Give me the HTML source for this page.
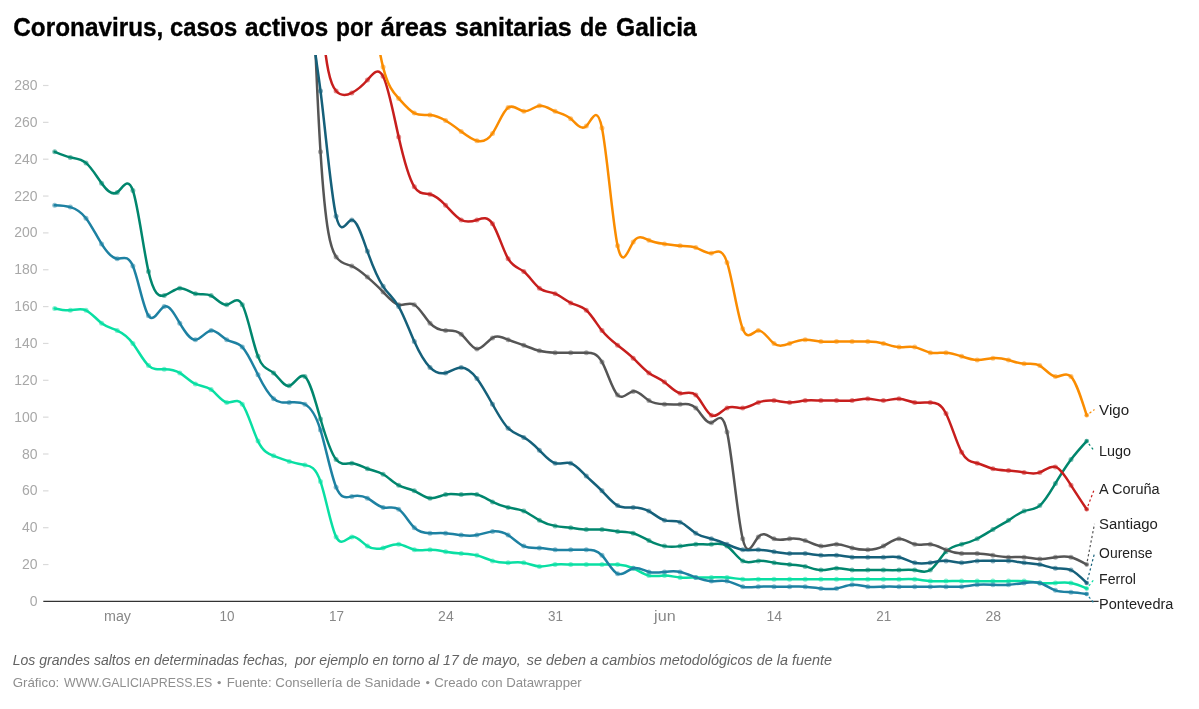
<!DOCTYPE html>
<html><head><meta charset="utf-8"><title>Coronavirus, casos activos por áreas sanitarias de Galicia</title>
<style>
html,body{margin:0;padding:0;background:#fff;}
body{width:1199px;height:709px;overflow:hidden;font-family:"Liberation Sans",sans-serif;}
svg{display:block;will-change:transform;font-family:"Liberation Sans",sans-serif;}
</style></head><body>
<svg width="1199" height="709" viewBox="0 0 1199 709">
<rect width="1199" height="709" fill="#ffffff"/>
<defs><clipPath id="cp"><rect x="40" y="55" width="1080" height="560"/></clipPath></defs>
<g font-size="25.5" font-weight="bold" fill="#000" stroke="#000" stroke-width="0.35"><text x="13.3" y="35.8" textLength="150.0" lengthAdjust="spacingAndGlyphs">Coronavirus,</text><text x="170.0" y="35.8" textLength="67.3" lengthAdjust="spacingAndGlyphs">casos</text><text x="245.0" y="35.8" textLength="83.3" lengthAdjust="spacingAndGlyphs">activos</text><text x="336.0" y="35.8" textLength="36.7" lengthAdjust="spacingAndGlyphs">por</text><text x="380.7" y="35.8" textLength="66.6" lengthAdjust="spacingAndGlyphs">áreas</text><text x="455.0" y="35.8" textLength="116.7" lengthAdjust="spacingAndGlyphs">sanitarias</text><text x="580.0" y="35.8" textLength="27.3" lengthAdjust="spacingAndGlyphs">de</text><text x="616.0" y="35.8" textLength="80.7" lengthAdjust="spacingAndGlyphs">Galicia</text></g>
<text x="29.7" y="605.9" font-size="14" fill="#a8a8a8" textLength="7.8" lengthAdjust="spacingAndGlyphs">0</text><text x="21.9" y="569.0" font-size="14" fill="#a8a8a8" textLength="15.6" lengthAdjust="spacingAndGlyphs">20</text><line x1="43" x2="48.5" y1="564.55" y2="564.55" stroke="#dadada" stroke-width="1.2"/>
<text x="21.9" y="532.2" font-size="14" fill="#a8a8a8" textLength="15.6" lengthAdjust="spacingAndGlyphs">40</text><line x1="43" x2="48.5" y1="527.70" y2="527.70" stroke="#dadada" stroke-width="1.2"/>
<text x="21.9" y="495.3" font-size="14" fill="#a8a8a8" textLength="15.6" lengthAdjust="spacingAndGlyphs">60</text><line x1="43" x2="48.5" y1="490.85" y2="490.85" stroke="#dadada" stroke-width="1.2"/>
<text x="21.9" y="458.5" font-size="14" fill="#a8a8a8" textLength="15.6" lengthAdjust="spacingAndGlyphs">80</text><line x1="43" x2="48.5" y1="454.00" y2="454.00" stroke="#dadada" stroke-width="1.2"/>
<text x="14.2" y="421.6" font-size="14" fill="#a8a8a8" textLength="23.3" lengthAdjust="spacingAndGlyphs">100</text><line x1="43" x2="48.5" y1="417.15" y2="417.15" stroke="#dadada" stroke-width="1.2"/>
<text x="14.2" y="384.8" font-size="14" fill="#a8a8a8" textLength="23.3" lengthAdjust="spacingAndGlyphs">120</text><line x1="43" x2="48.5" y1="380.30" y2="380.30" stroke="#dadada" stroke-width="1.2"/>
<text x="14.2" y="347.9" font-size="14" fill="#a8a8a8" textLength="23.3" lengthAdjust="spacingAndGlyphs">140</text><line x1="43" x2="48.5" y1="343.45" y2="343.45" stroke="#dadada" stroke-width="1.2"/>
<text x="14.2" y="311.1" font-size="14" fill="#a8a8a8" textLength="23.3" lengthAdjust="spacingAndGlyphs">160</text><line x1="43" x2="48.5" y1="306.60" y2="306.60" stroke="#dadada" stroke-width="1.2"/>
<text x="14.2" y="274.2" font-size="14" fill="#a8a8a8" textLength="23.3" lengthAdjust="spacingAndGlyphs">180</text><line x1="43" x2="48.5" y1="269.75" y2="269.75" stroke="#dadada" stroke-width="1.2"/>
<text x="14.2" y="237.4" font-size="14" fill="#a8a8a8" textLength="23.3" lengthAdjust="spacingAndGlyphs">200</text><line x1="43" x2="48.5" y1="232.90" y2="232.90" stroke="#dadada" stroke-width="1.2"/>
<text x="14.2" y="200.5" font-size="14" fill="#a8a8a8" textLength="23.3" lengthAdjust="spacingAndGlyphs">220</text><line x1="43" x2="48.5" y1="196.05" y2="196.05" stroke="#dadada" stroke-width="1.2"/>
<text x="14.2" y="163.7" font-size="14" fill="#a8a8a8" textLength="23.3" lengthAdjust="spacingAndGlyphs">240</text><line x1="43" x2="48.5" y1="159.20" y2="159.20" stroke="#dadada" stroke-width="1.2"/>
<text x="14.2" y="126.8" font-size="14" fill="#a8a8a8" textLength="23.3" lengthAdjust="spacingAndGlyphs">260</text><line x1="43" x2="48.5" y1="122.35" y2="122.35" stroke="#dadada" stroke-width="1.2"/>
<text x="14.2" y="90.0" font-size="14" fill="#a8a8a8" textLength="23.3" lengthAdjust="spacingAndGlyphs">280</text><line x1="43" x2="48.5" y1="85.50" y2="85.50" stroke="#dadada" stroke-width="1.2"/>
<line x1="43.3" x2="1098.6" y1="601.4" y2="601.4" stroke="#333" stroke-width="1.3"/>
<text x="104.0" y="621" font-size="14" fill="#888" textLength="27.0" lengthAdjust="spacingAndGlyphs">may</text>
<text x="219.5" y="621" font-size="14" fill="#888" textLength="15.0" lengthAdjust="spacingAndGlyphs">10</text>
<text x="328.9" y="621" font-size="14" fill="#888" textLength="15.0" lengthAdjust="spacingAndGlyphs">17</text>
<text x="438.1" y="621" font-size="14" fill="#888" textLength="15.6" lengthAdjust="spacingAndGlyphs">24</text>
<text x="547.9" y="621" font-size="14" fill="#888" textLength="15.0" lengthAdjust="spacingAndGlyphs">31</text>
<text x="654.1" y="621" font-size="14" fill="#888" textLength="21.5" lengthAdjust="spacingAndGlyphs">jun</text>
<text x="766.5" y="621" font-size="14" fill="#888" textLength="15.6" lengthAdjust="spacingAndGlyphs">14</text>
<text x="876.2" y="621" font-size="14" fill="#888" textLength="15.0" lengthAdjust="spacingAndGlyphs">21</text>
<text x="985.4" y="621" font-size="14" fill="#888" textLength="15.6" lengthAdjust="spacingAndGlyphs">28</text>
<g clip-path="url(#cp)" fill="none" stroke-linejoin="round" stroke-linecap="round">
<path d="M54.70,151.83C59.91,154.03,65.12,156.24,70.34,157.36C75.55,158.48,80.76,158.52,85.97,162.88C91.18,167.25,96.40,175.95,101.61,183.15C106.82,190.36,112.03,196.08,117.24,192.36C122.46,188.65,127.67,175.50,132.88,190.52C138.09,205.54,143.30,248.72,148.52,271.59C153.73,294.46,158.94,297.01,164.15,295.54C169.36,294.08,174.58,288.59,179.79,288.17C185.00,287.76,190.21,292.42,195.42,293.70C200.64,294.99,205.85,292.91,211.06,295.54C216.27,298.18,221.48,305.54,226.70,304.76C231.91,303.97,237.12,295.05,242.33,304.76C247.54,314.46,252.76,342.80,257.97,356.35C263.18,369.90,268.39,368.66,273.60,372.93C278.82,377.20,284.03,386.99,289.24,385.83C294.45,384.67,299.66,372.56,304.88,376.62C310.09,380.67,315.30,400.90,320.51,418.99C325.72,437.08,330.94,453.04,336.15,459.53C341.36,466.01,346.57,463.03,351.78,463.21C357.00,463.40,362.21,466.76,367.42,468.74C372.63,470.72,377.84,471.32,383.06,474.27C388.27,477.21,393.48,482.51,398.69,485.32C403.90,488.14,409.12,488.48,414.33,490.85C419.54,493.22,424.75,497.63,429.96,498.22C435.18,498.81,440.39,495.60,445.60,494.53C450.81,493.47,456.02,494.57,461.24,494.53C466.45,494.50,471.66,493.35,476.87,494.53C482.08,495.72,487.30,499.25,492.51,501.90C497.72,504.56,502.93,506.35,508.14,507.43C513.36,508.51,518.57,508.88,523.78,511.12C528.99,513.35,534.20,517.44,539.42,520.33C544.63,523.22,549.84,524.89,555.05,525.86C560.26,526.82,565.48,527.08,570.69,527.70C575.90,528.32,581.11,529.31,586.32,529.54C591.54,529.78,596.75,529.26,601.96,529.54C607.17,529.83,612.38,530.92,617.60,531.38C622.81,531.85,628.02,531.70,633.23,533.23C638.44,534.76,643.66,537.98,648.87,540.60C654.08,543.22,659.29,545.24,664.50,546.12C669.72,547.01,674.93,546.75,680.14,546.12C685.35,545.50,690.56,544.50,695.78,544.28C700.99,544.07,706.20,544.64,711.41,544.28C716.62,543.92,721.84,542.62,727.05,546.12C732.26,549.63,737.47,557.93,742.68,560.87C747.90,563.80,753.11,561.38,758.32,560.87C763.53,560.35,768.74,561.75,773.96,562.71C779.17,563.66,784.38,564.18,789.59,564.55C794.80,564.92,800.02,565.15,805.23,566.39C810.44,567.63,815.65,569.88,820.86,570.08C826.08,570.27,831.29,568.42,836.50,568.24C841.71,568.05,846.92,569.53,852.14,570.08C857.35,570.63,862.56,570.24,867.77,570.08C872.98,569.91,878.20,569.97,883.41,570.08C888.62,570.18,893.83,570.34,899.04,570.08C904.26,569.81,909.47,569.13,914.68,570.08C919.89,571.03,925.10,573.61,930.32,570.08C935.53,566.55,940.74,556.90,945.95,551.65C951.16,546.40,956.38,545.55,961.59,544.28C966.80,543.02,972.01,541.35,977.22,538.75C982.44,536.16,987.65,532.65,992.86,529.54C998.07,526.43,1003.28,523.72,1008.50,520.33C1013.71,516.94,1018.92,512.88,1024.13,511.12C1029.34,509.35,1034.56,509.88,1039.77,505.59C1044.98,501.30,1050.19,492.17,1055.40,483.48C1060.62,474.79,1065.83,466.52,1071.04,459.53C1076.25,452.54,1081.46,446.82,1086.68,441.10" stroke="#00866d" stroke-width="2.5"/>
<g fill="#00866d" fill-opacity="0.5" stroke="none"><circle cx="54.7" cy="151.8" r="2.5"/><circle cx="70.3" cy="157.4" r="2.5"/><circle cx="86.0" cy="162.9" r="2.5"/><circle cx="101.6" cy="183.2" r="2.5"/><circle cx="117.2" cy="192.4" r="2.5"/><circle cx="132.9" cy="190.5" r="2.5"/><circle cx="148.5" cy="271.6" r="2.5"/><circle cx="164.2" cy="295.5" r="2.5"/><circle cx="179.8" cy="288.2" r="2.5"/><circle cx="195.4" cy="293.7" r="2.5"/><circle cx="211.1" cy="295.5" r="2.5"/><circle cx="226.7" cy="304.8" r="2.5"/><circle cx="242.3" cy="304.8" r="2.5"/><circle cx="258.0" cy="356.3" r="2.5"/><circle cx="273.6" cy="372.9" r="2.5"/><circle cx="289.2" cy="385.8" r="2.5"/><circle cx="304.9" cy="376.6" r="2.5"/><circle cx="320.5" cy="419.0" r="2.5"/><circle cx="336.1" cy="459.5" r="2.5"/><circle cx="351.8" cy="463.2" r="2.5"/><circle cx="367.4" cy="468.7" r="2.5"/><circle cx="383.1" cy="474.3" r="2.5"/><circle cx="398.7" cy="485.3" r="2.5"/><circle cx="414.3" cy="490.8" r="2.5"/><circle cx="430.0" cy="498.2" r="2.5"/><circle cx="445.6" cy="494.5" r="2.5"/><circle cx="461.2" cy="494.5" r="2.5"/><circle cx="476.9" cy="494.5" r="2.5"/><circle cx="492.5" cy="501.9" r="2.5"/><circle cx="508.1" cy="507.4" r="2.5"/><circle cx="523.8" cy="511.1" r="2.5"/><circle cx="539.4" cy="520.3" r="2.5"/><circle cx="555.1" cy="525.9" r="2.5"/><circle cx="570.7" cy="527.7" r="2.5"/><circle cx="586.3" cy="529.5" r="2.5"/><circle cx="602.0" cy="529.5" r="2.5"/><circle cx="617.6" cy="531.4" r="2.5"/><circle cx="633.2" cy="533.2" r="2.5"/><circle cx="648.9" cy="540.6" r="2.5"/><circle cx="664.5" cy="546.1" r="2.5"/><circle cx="680.1" cy="546.1" r="2.5"/><circle cx="695.8" cy="544.3" r="2.5"/><circle cx="711.4" cy="544.3" r="2.5"/><circle cx="727.0" cy="546.1" r="2.5"/><circle cx="742.7" cy="560.9" r="2.5"/><circle cx="758.3" cy="560.9" r="2.5"/><circle cx="774.0" cy="562.7" r="2.5"/><circle cx="789.6" cy="564.5" r="2.5"/><circle cx="805.2" cy="566.4" r="2.5"/><circle cx="820.9" cy="570.1" r="2.5"/><circle cx="836.5" cy="568.2" r="2.5"/><circle cx="852.1" cy="570.1" r="2.5"/><circle cx="867.8" cy="570.1" r="2.5"/><circle cx="883.4" cy="570.1" r="2.5"/><circle cx="899.0" cy="570.1" r="2.5"/><circle cx="914.7" cy="570.1" r="2.5"/><circle cx="930.3" cy="570.1" r="2.5"/><circle cx="946.0" cy="551.7" r="2.5"/><circle cx="961.6" cy="544.3" r="2.5"/><circle cx="977.2" cy="538.8" r="2.5"/><circle cx="992.9" cy="529.5" r="2.5"/><circle cx="1008.5" cy="520.3" r="2.5"/><circle cx="1024.1" cy="511.1" r="2.5"/><circle cx="1039.8" cy="505.6" r="2.5"/><circle cx="1055.4" cy="483.5" r="2.5"/><circle cx="1071.0" cy="459.5" r="2.5"/></g>
<circle cx="1086.7" cy="441.1" r="2.3" fill="#00866d" fill-opacity="0.7" stroke="none"/>
<path d="M54.70,308.44C59.91,309.57,65.12,310.69,70.34,310.28C75.55,309.88,80.76,307.93,85.97,310.28C91.18,312.64,96.40,319.29,101.61,323.18C106.82,327.07,112.03,328.20,117.24,330.55C122.46,332.90,127.67,336.47,132.88,343.45C138.09,350.43,143.30,360.83,148.52,365.56C153.73,370.29,158.94,369.36,164.15,369.25C169.36,369.13,174.58,369.83,179.79,372.93C185.00,376.03,190.21,381.55,195.42,383.99C200.64,386.42,205.85,385.78,211.06,389.51C216.27,393.24,221.48,401.34,226.70,402.41C231.91,403.48,237.12,397.53,242.33,404.25C247.54,410.98,252.76,430.38,257.97,441.10C263.18,451.82,268.39,453.85,273.60,455.84C278.82,457.83,284.03,459.78,289.24,461.37C294.45,462.96,299.66,464.18,304.88,465.05C310.09,465.93,315.30,466.47,320.51,481.64C325.72,496.81,330.94,526.60,336.15,536.91C341.36,547.22,346.57,538.04,351.78,536.91C357.00,535.79,362.21,542.72,367.42,546.12C372.63,549.53,377.84,549.40,383.06,547.97C388.27,546.53,393.48,543.78,398.69,544.28C403.90,544.78,409.12,548.54,414.33,549.81C419.54,551.08,424.75,549.88,429.96,549.81C435.18,549.74,440.39,550.81,445.60,551.65C450.81,552.50,456.02,553.13,461.24,553.50C466.45,553.86,471.66,553.97,476.87,555.34C482.08,556.70,487.30,559.33,492.51,560.87C497.72,562.40,502.93,562.84,508.14,562.71C513.36,562.57,518.57,561.85,523.78,562.71C528.99,563.56,534.20,566.00,539.42,566.39C544.63,566.79,549.84,565.15,555.05,564.55C560.26,563.95,565.48,564.40,570.69,564.55C575.90,564.70,581.11,564.57,586.32,564.55C591.54,564.53,596.75,564.63,601.96,564.55C607.17,564.47,612.38,564.20,617.60,564.55C622.81,564.90,628.02,565.87,633.23,568.24C638.44,570.60,643.66,574.36,648.87,575.61C654.08,576.85,659.29,575.57,664.50,575.61C669.72,575.64,674.93,576.97,680.14,577.45C685.35,577.93,690.56,577.55,695.78,577.45C700.99,577.35,706.20,577.52,711.41,577.45C716.62,577.38,721.84,577.07,727.05,577.45C732.26,577.83,737.47,578.90,742.68,579.29C747.90,579.68,753.11,579.40,758.32,579.29C763.53,579.18,768.74,579.26,773.96,579.29C779.17,579.32,784.38,579.30,789.59,579.29C794.80,579.28,800.02,579.29,805.23,579.29C810.44,579.29,815.65,579.29,820.86,579.29C826.08,579.29,831.29,579.29,836.50,579.29C841.71,579.29,846.92,579.29,852.14,579.29C857.35,579.29,862.56,579.30,867.77,579.29C872.98,579.28,878.20,579.26,883.41,579.29C888.62,579.32,893.83,579.39,899.04,579.29C904.26,579.19,909.47,578.90,914.68,579.29C919.89,579.68,925.10,580.74,930.32,581.13C935.53,581.52,940.74,581.24,945.95,581.13C951.16,581.03,956.38,581.10,961.59,581.13C966.80,581.16,972.01,581.15,977.22,581.13C982.44,581.12,987.65,581.10,992.86,581.13C998.07,581.16,1003.28,581.23,1008.50,581.13C1013.71,581.03,1018.92,580.76,1024.13,581.13C1029.34,581.51,1034.56,582.52,1039.77,582.98C1044.98,583.43,1050.19,583.31,1055.40,582.98C1060.62,582.64,1065.83,582.09,1071.04,582.98C1076.25,583.86,1081.46,586.18,1086.68,588.50" stroke="#09dfa3" stroke-width="2.5"/>
<g fill="#09dfa3" fill-opacity="0.5" stroke="none"><circle cx="54.7" cy="308.4" r="2.5"/><circle cx="70.3" cy="310.3" r="2.5"/><circle cx="86.0" cy="310.3" r="2.5"/><circle cx="101.6" cy="323.2" r="2.5"/><circle cx="117.2" cy="330.6" r="2.5"/><circle cx="132.9" cy="343.4" r="2.5"/><circle cx="148.5" cy="365.6" r="2.5"/><circle cx="164.2" cy="369.2" r="2.5"/><circle cx="179.8" cy="372.9" r="2.5"/><circle cx="195.4" cy="384.0" r="2.5"/><circle cx="211.1" cy="389.5" r="2.5"/><circle cx="226.7" cy="402.4" r="2.5"/><circle cx="242.3" cy="404.3" r="2.5"/><circle cx="258.0" cy="441.1" r="2.5"/><circle cx="273.6" cy="455.8" r="2.5"/><circle cx="289.2" cy="461.4" r="2.5"/><circle cx="304.9" cy="465.1" r="2.5"/><circle cx="320.5" cy="481.6" r="2.5"/><circle cx="336.1" cy="536.9" r="2.5"/><circle cx="351.8" cy="536.9" r="2.5"/><circle cx="367.4" cy="546.1" r="2.5"/><circle cx="383.1" cy="548.0" r="2.5"/><circle cx="398.7" cy="544.3" r="2.5"/><circle cx="414.3" cy="549.8" r="2.5"/><circle cx="430.0" cy="549.8" r="2.5"/><circle cx="445.6" cy="551.7" r="2.5"/><circle cx="461.2" cy="553.5" r="2.5"/><circle cx="476.9" cy="555.3" r="2.5"/><circle cx="492.5" cy="560.9" r="2.5"/><circle cx="508.1" cy="562.7" r="2.5"/><circle cx="523.8" cy="562.7" r="2.5"/><circle cx="539.4" cy="566.4" r="2.5"/><circle cx="555.1" cy="564.5" r="2.5"/><circle cx="570.7" cy="564.5" r="2.5"/><circle cx="586.3" cy="564.5" r="2.5"/><circle cx="602.0" cy="564.5" r="2.5"/><circle cx="617.6" cy="564.5" r="2.5"/><circle cx="633.2" cy="568.2" r="2.5"/><circle cx="648.9" cy="575.6" r="2.5"/><circle cx="664.5" cy="575.6" r="2.5"/><circle cx="680.1" cy="577.4" r="2.5"/><circle cx="695.8" cy="577.4" r="2.5"/><circle cx="711.4" cy="577.4" r="2.5"/><circle cx="727.0" cy="577.4" r="2.5"/><circle cx="742.7" cy="579.3" r="2.5"/><circle cx="758.3" cy="579.3" r="2.5"/><circle cx="774.0" cy="579.3" r="2.5"/><circle cx="789.6" cy="579.3" r="2.5"/><circle cx="805.2" cy="579.3" r="2.5"/><circle cx="820.9" cy="579.3" r="2.5"/><circle cx="836.5" cy="579.3" r="2.5"/><circle cx="852.1" cy="579.3" r="2.5"/><circle cx="867.8" cy="579.3" r="2.5"/><circle cx="883.4" cy="579.3" r="2.5"/><circle cx="899.0" cy="579.3" r="2.5"/><circle cx="914.7" cy="579.3" r="2.5"/><circle cx="930.3" cy="581.1" r="2.5"/><circle cx="946.0" cy="581.1" r="2.5"/><circle cx="961.6" cy="581.1" r="2.5"/><circle cx="977.2" cy="581.1" r="2.5"/><circle cx="992.9" cy="581.1" r="2.5"/><circle cx="1008.5" cy="581.1" r="2.5"/><circle cx="1024.1" cy="581.1" r="2.5"/><circle cx="1039.8" cy="583.0" r="2.5"/><circle cx="1055.4" cy="583.0" r="2.5"/><circle cx="1071.0" cy="583.0" r="2.5"/></g>
<circle cx="1086.7" cy="588.5" r="2.3" fill="#09dfa3" fill-opacity="0.7" stroke="none"/>
<path d="M304.88,-227.73C310.09,-78.99,315.30,69.75,320.51,151.83C325.72,233.91,330.94,249.32,336.15,256.85C341.36,264.38,346.57,264.02,351.78,266.06C357.00,268.11,362.21,272.55,367.42,277.12C372.63,281.69,377.84,286.37,383.06,291.86C388.27,297.35,393.48,303.63,398.69,304.76C403.90,305.88,409.12,301.85,414.33,304.76C419.54,307.67,424.75,317.52,429.96,323.18C435.18,328.84,440.39,330.30,445.60,330.55C450.81,330.80,456.02,329.83,461.24,334.24C466.45,338.64,471.66,348.41,476.87,348.98C482.08,349.54,487.30,340.89,492.51,337.92C497.72,334.95,502.93,337.66,508.14,339.76C513.36,341.87,518.57,343.39,523.78,345.29C528.99,347.20,534.20,349.49,539.42,350.82C544.63,352.15,549.84,352.53,555.05,352.66C560.26,352.80,565.48,352.69,570.69,352.66C575.90,352.63,581.11,352.67,586.32,352.66C591.54,352.65,596.75,352.59,601.96,361.88C607.17,371.16,612.38,389.80,617.60,395.04C622.81,400.28,628.02,392.13,633.23,391.35C638.44,390.58,643.66,397.19,648.87,400.57C654.08,403.94,659.29,404.08,664.50,404.25C669.72,404.42,674.93,404.63,680.14,404.25C685.35,403.88,690.56,402.93,695.78,407.94C700.99,412.95,706.20,423.91,711.41,422.68C716.62,421.44,721.84,408.01,727.05,431.89C732.26,455.77,737.47,516.98,742.68,538.75C747.90,560.53,753.11,542.88,758.32,536.91C763.53,530.95,768.74,536.67,773.96,538.75C779.17,540.84,784.38,539.28,789.59,538.75C794.80,538.23,800.02,538.74,805.23,540.60C810.44,542.46,815.65,545.67,820.86,546.12C826.08,546.58,831.29,544.29,836.50,544.28C841.71,544.27,846.92,546.55,852.14,547.97C857.35,549.39,862.56,549.95,867.77,549.81C872.98,549.67,878.20,548.83,883.41,546.12C888.62,543.42,893.83,538.86,899.04,538.75C904.26,538.65,909.47,543.01,914.68,544.28C919.89,545.55,925.10,543.74,930.32,544.28C935.53,544.83,940.74,547.73,945.95,549.81C951.16,551.89,956.38,553.13,961.59,553.50C966.80,553.86,972.01,553.34,977.22,553.50C982.44,553.65,987.65,554.49,992.86,555.34C998.07,556.18,1003.28,557.03,1008.50,557.18C1013.71,557.33,1018.92,556.78,1024.13,557.18C1029.34,557.58,1034.56,558.92,1039.77,559.02C1044.98,559.12,1050.19,557.99,1055.40,557.18C1060.62,556.37,1065.83,555.90,1071.04,557.18C1076.25,558.46,1081.46,561.51,1086.68,564.55" stroke="#555555" stroke-width="2.5"/>
<g fill="#555555" fill-opacity="0.5" stroke="none"><circle cx="320.5" cy="151.8" r="2.5"/><circle cx="336.1" cy="256.9" r="2.5"/><circle cx="351.8" cy="266.1" r="2.5"/><circle cx="367.4" cy="277.1" r="2.5"/><circle cx="383.1" cy="291.9" r="2.5"/><circle cx="398.7" cy="304.8" r="2.5"/><circle cx="414.3" cy="304.8" r="2.5"/><circle cx="430.0" cy="323.2" r="2.5"/><circle cx="445.6" cy="330.6" r="2.5"/><circle cx="461.2" cy="334.2" r="2.5"/><circle cx="476.9" cy="349.0" r="2.5"/><circle cx="492.5" cy="337.9" r="2.5"/><circle cx="508.1" cy="339.8" r="2.5"/><circle cx="523.8" cy="345.3" r="2.5"/><circle cx="539.4" cy="350.8" r="2.5"/><circle cx="555.1" cy="352.7" r="2.5"/><circle cx="570.7" cy="352.7" r="2.5"/><circle cx="586.3" cy="352.7" r="2.5"/><circle cx="602.0" cy="361.9" r="2.5"/><circle cx="617.6" cy="395.0" r="2.5"/><circle cx="633.2" cy="391.4" r="2.5"/><circle cx="648.9" cy="400.6" r="2.5"/><circle cx="664.5" cy="404.3" r="2.5"/><circle cx="680.1" cy="404.3" r="2.5"/><circle cx="695.8" cy="407.9" r="2.5"/><circle cx="711.4" cy="422.7" r="2.5"/><circle cx="727.0" cy="431.9" r="2.5"/><circle cx="742.7" cy="538.8" r="2.5"/><circle cx="758.3" cy="536.9" r="2.5"/><circle cx="774.0" cy="538.8" r="2.5"/><circle cx="789.6" cy="538.8" r="2.5"/><circle cx="805.2" cy="540.6" r="2.5"/><circle cx="820.9" cy="546.1" r="2.5"/><circle cx="836.5" cy="544.3" r="2.5"/><circle cx="852.1" cy="548.0" r="2.5"/><circle cx="867.8" cy="549.8" r="2.5"/><circle cx="883.4" cy="546.1" r="2.5"/><circle cx="899.0" cy="538.8" r="2.5"/><circle cx="914.7" cy="544.3" r="2.5"/><circle cx="930.3" cy="544.3" r="2.5"/><circle cx="946.0" cy="549.8" r="2.5"/><circle cx="961.6" cy="553.5" r="2.5"/><circle cx="977.2" cy="553.5" r="2.5"/><circle cx="992.9" cy="555.3" r="2.5"/><circle cx="1008.5" cy="557.2" r="2.5"/><circle cx="1024.1" cy="557.2" r="2.5"/><circle cx="1039.8" cy="559.0" r="2.5"/><circle cx="1055.4" cy="557.2" r="2.5"/><circle cx="1071.0" cy="557.2" r="2.5"/></g>
<circle cx="1086.7" cy="564.5" r="2.3" fill="#555555" fill-opacity="0.7" stroke="none"/>
<path d="M289.24,-504.10C294.45,-332.68,299.66,-161.25,304.88,-65.59C310.09,30.08,315.30,49.99,320.51,91.03C325.72,132.06,330.94,194.22,336.15,216.32C341.36,238.42,346.57,220.45,351.78,220.00C357.00,219.55,362.21,236.61,367.42,251.32C372.63,266.04,377.84,278.43,383.06,286.33C388.27,294.24,393.48,297.67,398.69,306.60C403.90,315.53,409.12,329.95,414.33,341.61C419.54,353.27,424.75,362.16,429.96,367.40C435.18,372.65,440.39,374.24,445.60,372.93C450.81,371.62,456.02,367.41,461.24,367.40C466.45,367.40,471.66,371.60,476.87,378.46C482.08,385.32,487.30,394.83,492.51,404.25C497.72,413.67,502.93,422.99,508.14,428.20C513.36,433.42,518.57,434.53,523.78,437.42C528.99,440.30,534.20,444.96,539.42,450.31C544.63,455.67,549.84,461.72,555.05,463.21C560.26,464.71,565.48,461.66,570.69,463.21C575.90,464.77,581.11,470.93,586.32,476.11C591.54,481.29,596.75,485.48,601.96,490.85C607.17,496.22,612.38,502.78,617.60,505.59C622.81,508.40,628.02,507.46,633.23,507.43C638.44,507.40,643.66,508.27,648.87,511.12C654.08,513.96,659.29,518.78,664.50,520.33C669.72,521.88,674.93,520.16,680.14,522.17C685.35,524.19,690.56,529.93,695.78,533.23C700.99,536.52,706.20,537.37,711.41,538.75C716.62,540.14,721.84,542.07,727.05,544.28C732.26,546.49,737.47,548.99,742.68,549.81C747.90,550.63,753.11,549.77,758.32,549.81C763.53,549.85,768.74,550.78,773.96,551.65C779.17,552.53,784.38,553.34,789.59,553.50C794.80,553.65,800.02,553.15,805.23,553.50C810.44,553.84,815.65,555.03,820.86,555.34C826.08,555.64,831.29,555.05,836.50,555.34C841.71,555.62,846.92,556.78,852.14,557.18C857.35,557.58,862.56,557.21,867.77,557.18C872.98,557.15,878.20,557.45,883.41,557.18C888.62,556.91,893.83,556.06,899.04,557.18C904.26,558.30,909.47,561.40,914.68,562.71C919.89,564.02,925.10,563.54,930.32,562.71C935.53,561.87,940.74,560.67,945.95,560.87C951.16,561.06,956.38,562.63,961.59,562.71C966.80,562.78,972.01,561.36,977.22,560.87C982.44,560.37,987.65,560.82,992.86,560.87C998.07,560.91,1003.28,560.56,1008.50,560.87C1013.71,561.17,1018.92,562.14,1024.13,562.71C1029.34,563.28,1034.56,563.45,1039.77,564.55C1044.98,565.65,1050.19,567.68,1055.40,568.24C1060.62,568.79,1065.83,567.87,1071.04,570.08C1076.25,572.29,1081.46,577.63,1086.68,582.98" stroke="#15607a" stroke-width="2.5"/>
<g fill="#15607a" fill-opacity="0.5" stroke="none"><circle cx="320.5" cy="91.0" r="2.5"/><circle cx="336.1" cy="216.3" r="2.5"/><circle cx="351.8" cy="220.0" r="2.5"/><circle cx="367.4" cy="251.3" r="2.5"/><circle cx="383.1" cy="286.3" r="2.5"/><circle cx="398.7" cy="306.6" r="2.5"/><circle cx="414.3" cy="341.6" r="2.5"/><circle cx="430.0" cy="367.4" r="2.5"/><circle cx="445.6" cy="372.9" r="2.5"/><circle cx="461.2" cy="367.4" r="2.5"/><circle cx="476.9" cy="378.5" r="2.5"/><circle cx="492.5" cy="404.3" r="2.5"/><circle cx="508.1" cy="428.2" r="2.5"/><circle cx="523.8" cy="437.4" r="2.5"/><circle cx="539.4" cy="450.3" r="2.5"/><circle cx="555.1" cy="463.2" r="2.5"/><circle cx="570.7" cy="463.2" r="2.5"/><circle cx="586.3" cy="476.1" r="2.5"/><circle cx="602.0" cy="490.8" r="2.5"/><circle cx="617.6" cy="505.6" r="2.5"/><circle cx="633.2" cy="507.4" r="2.5"/><circle cx="648.9" cy="511.1" r="2.5"/><circle cx="664.5" cy="520.3" r="2.5"/><circle cx="680.1" cy="522.2" r="2.5"/><circle cx="695.8" cy="533.2" r="2.5"/><circle cx="711.4" cy="538.8" r="2.5"/><circle cx="727.0" cy="544.3" r="2.5"/><circle cx="742.7" cy="549.8" r="2.5"/><circle cx="758.3" cy="549.8" r="2.5"/><circle cx="774.0" cy="551.7" r="2.5"/><circle cx="789.6" cy="553.5" r="2.5"/><circle cx="805.2" cy="553.5" r="2.5"/><circle cx="820.9" cy="555.3" r="2.5"/><circle cx="836.5" cy="555.3" r="2.5"/><circle cx="852.1" cy="557.2" r="2.5"/><circle cx="867.8" cy="557.2" r="2.5"/><circle cx="883.4" cy="557.2" r="2.5"/><circle cx="899.0" cy="557.2" r="2.5"/><circle cx="914.7" cy="562.7" r="2.5"/><circle cx="930.3" cy="562.7" r="2.5"/><circle cx="946.0" cy="560.9" r="2.5"/><circle cx="961.6" cy="562.7" r="2.5"/><circle cx="977.2" cy="560.9" r="2.5"/><circle cx="992.9" cy="560.9" r="2.5"/><circle cx="1008.5" cy="560.9" r="2.5"/><circle cx="1024.1" cy="562.7" r="2.5"/><circle cx="1039.8" cy="564.5" r="2.5"/><circle cx="1055.4" cy="568.2" r="2.5"/><circle cx="1071.0" cy="570.1" r="2.5"/></g>
<circle cx="1086.7" cy="583.0" r="2.3" fill="#15607a" fill-opacity="0.7" stroke="none"/>
<path d="M54.70,205.26C59.91,205.44,65.12,205.61,70.34,207.10C75.55,208.60,80.76,211.41,85.97,218.16C91.18,224.91,96.40,235.60,101.61,243.95C106.82,252.31,112.03,258.33,117.24,258.69C122.46,259.06,127.67,253.79,132.88,266.06C138.09,278.34,143.30,308.17,148.52,315.81C153.73,323.45,158.94,308.90,164.15,306.60C169.36,304.30,174.58,314.26,179.79,323.18C185.00,332.10,190.21,339.98,195.42,339.76C200.64,339.55,205.85,331.24,211.06,330.55C216.27,329.86,221.48,336.80,226.70,339.76C231.91,342.73,237.12,341.74,242.33,347.13C247.54,352.53,252.76,364.32,257.97,374.77C263.18,385.22,268.39,394.32,273.60,398.72C278.82,403.13,284.03,402.83,289.24,402.41C294.45,401.99,299.66,401.46,304.88,404.25C310.09,407.05,315.30,413.18,320.51,430.05C325.72,446.92,330.94,474.53,336.15,487.16C341.36,499.80,346.57,497.46,351.78,496.38C357.00,495.30,362.21,495.49,367.42,498.22C372.63,500.95,377.84,506.22,383.06,507.43C388.27,508.64,393.48,505.79,398.69,509.27C403.90,512.76,409.12,522.59,414.33,527.70C419.54,532.81,424.75,533.20,429.96,533.23C435.18,533.26,440.39,532.93,445.60,533.23C450.81,533.53,456.02,534.45,461.24,535.07C466.45,535.69,471.66,536.00,476.87,535.07C482.08,534.14,487.30,531.96,492.51,531.38C497.72,530.81,502.93,531.83,508.14,535.07C513.36,538.31,518.57,543.77,523.78,546.12C528.99,548.48,534.20,547.74,539.42,547.97C544.63,548.19,549.84,549.37,555.05,549.81C560.26,550.25,565.48,549.93,570.69,549.81C575.90,549.69,581.11,549.75,586.32,549.81C591.54,549.87,596.75,549.92,601.96,555.34C607.17,560.76,612.38,571.55,617.60,573.76C622.81,575.97,628.02,569.60,633.23,568.24C638.44,566.87,643.66,570.50,648.87,571.92C654.08,573.34,659.29,572.53,664.50,571.92C669.72,571.31,674.93,570.89,680.14,571.92C685.35,572.95,690.56,575.44,695.78,577.45C700.99,579.45,706.20,580.97,711.41,581.13C716.62,581.29,721.84,580.09,727.05,581.13C732.26,582.17,737.47,585.46,742.68,586.66C747.90,587.86,753.11,586.99,758.32,586.66C763.53,586.33,768.74,586.55,773.96,586.66C779.17,586.77,784.38,586.77,789.59,586.66C794.80,586.55,800.02,586.33,805.23,586.66C810.44,586.99,815.65,587.88,820.86,588.50C826.08,589.13,831.29,589.49,836.50,588.50C841.71,587.52,846.92,585.18,852.14,584.82C857.35,584.46,862.56,586.07,867.77,586.66C872.98,587.25,878.20,586.82,883.41,586.66C888.62,586.50,893.83,586.62,899.04,586.66C904.26,586.70,909.47,586.66,914.68,586.66C919.89,586.66,925.10,586.68,930.32,586.66C935.53,586.64,940.74,586.56,945.95,586.66C951.16,586.76,956.38,587.04,961.59,586.66C966.80,586.28,972.01,585.23,977.22,584.82C982.44,584.41,987.65,584.64,992.86,584.82C998.07,585.00,1003.28,585.13,1008.50,584.82C1013.71,584.51,1018.92,583.75,1024.13,582.98C1029.34,582.20,1034.56,581.40,1039.77,582.98C1044.98,584.55,1050.19,588.50,1055.40,590.35C1060.62,592.19,1065.83,591.92,1071.04,592.19C1076.25,592.45,1081.46,593.24,1086.68,594.03" stroke="#1d81a2" stroke-width="2.5"/>
<g fill="#1d81a2" fill-opacity="0.5" stroke="none"><circle cx="54.7" cy="205.3" r="2.5"/><circle cx="70.3" cy="207.1" r="2.5"/><circle cx="86.0" cy="218.2" r="2.5"/><circle cx="101.6" cy="244.0" r="2.5"/><circle cx="117.2" cy="258.7" r="2.5"/><circle cx="132.9" cy="266.1" r="2.5"/><circle cx="148.5" cy="315.8" r="2.5"/><circle cx="164.2" cy="306.6" r="2.5"/><circle cx="179.8" cy="323.2" r="2.5"/><circle cx="195.4" cy="339.8" r="2.5"/><circle cx="211.1" cy="330.6" r="2.5"/><circle cx="226.7" cy="339.8" r="2.5"/><circle cx="242.3" cy="347.1" r="2.5"/><circle cx="258.0" cy="374.8" r="2.5"/><circle cx="273.6" cy="398.7" r="2.5"/><circle cx="289.2" cy="402.4" r="2.5"/><circle cx="304.9" cy="404.3" r="2.5"/><circle cx="320.5" cy="430.0" r="2.5"/><circle cx="336.1" cy="487.2" r="2.5"/><circle cx="351.8" cy="496.4" r="2.5"/><circle cx="367.4" cy="498.2" r="2.5"/><circle cx="383.1" cy="507.4" r="2.5"/><circle cx="398.7" cy="509.3" r="2.5"/><circle cx="414.3" cy="527.7" r="2.5"/><circle cx="430.0" cy="533.2" r="2.5"/><circle cx="445.6" cy="533.2" r="2.5"/><circle cx="461.2" cy="535.1" r="2.5"/><circle cx="476.9" cy="535.1" r="2.5"/><circle cx="492.5" cy="531.4" r="2.5"/><circle cx="508.1" cy="535.1" r="2.5"/><circle cx="523.8" cy="546.1" r="2.5"/><circle cx="539.4" cy="548.0" r="2.5"/><circle cx="555.1" cy="549.8" r="2.5"/><circle cx="570.7" cy="549.8" r="2.5"/><circle cx="586.3" cy="549.8" r="2.5"/><circle cx="602.0" cy="555.3" r="2.5"/><circle cx="617.6" cy="573.8" r="2.5"/><circle cx="633.2" cy="568.2" r="2.5"/><circle cx="648.9" cy="571.9" r="2.5"/><circle cx="664.5" cy="571.9" r="2.5"/><circle cx="680.1" cy="571.9" r="2.5"/><circle cx="695.8" cy="577.4" r="2.5"/><circle cx="711.4" cy="581.1" r="2.5"/><circle cx="727.0" cy="581.1" r="2.5"/><circle cx="742.7" cy="586.7" r="2.5"/><circle cx="758.3" cy="586.7" r="2.5"/><circle cx="774.0" cy="586.7" r="2.5"/><circle cx="789.6" cy="586.7" r="2.5"/><circle cx="805.2" cy="586.7" r="2.5"/><circle cx="820.9" cy="588.5" r="2.5"/><circle cx="836.5" cy="588.5" r="2.5"/><circle cx="852.1" cy="584.8" r="2.5"/><circle cx="867.8" cy="586.7" r="2.5"/><circle cx="883.4" cy="586.7" r="2.5"/><circle cx="899.0" cy="586.7" r="2.5"/><circle cx="914.7" cy="586.7" r="2.5"/><circle cx="930.3" cy="586.7" r="2.5"/><circle cx="946.0" cy="586.7" r="2.5"/><circle cx="961.6" cy="586.7" r="2.5"/><circle cx="977.2" cy="584.8" r="2.5"/><circle cx="992.9" cy="584.8" r="2.5"/><circle cx="1008.5" cy="584.8" r="2.5"/><circle cx="1024.1" cy="583.0" r="2.5"/><circle cx="1039.8" cy="583.0" r="2.5"/><circle cx="1055.4" cy="590.3" r="2.5"/><circle cx="1071.0" cy="592.2" r="2.5"/></g>
<circle cx="1086.7" cy="594.0" r="2.3" fill="#1d81a2" fill-opacity="0.7" stroke="none"/>
<path d="M304.88,-319.85C310.09,-193.46,315.30,-67.08,320.51,2.59C325.72,72.25,330.94,85.19,336.15,91.03C341.36,96.87,346.57,95.60,351.78,92.87C357.00,90.14,362.21,85.93,367.42,79.97C372.63,74.01,377.84,66.29,383.06,76.29C388.27,86.29,393.48,114.00,398.69,137.09C403.90,160.18,409.12,178.63,414.33,186.84C419.54,195.05,424.75,193.02,429.96,194.21C435.18,195.39,440.39,199.80,445.60,205.26C450.81,210.73,456.02,217.25,461.24,220.00C466.45,222.75,471.66,221.73,476.87,220.00C482.08,218.27,487.30,215.83,492.51,223.69C497.72,231.55,502.93,249.72,508.14,258.69C513.36,267.67,518.57,267.46,523.78,271.59C528.99,275.72,534.20,284.20,539.42,288.17C544.63,292.15,549.84,291.63,555.05,293.70C560.26,295.78,565.48,300.45,570.69,302.91C575.90,305.38,581.11,305.64,586.32,310.28C591.54,314.93,596.75,323.97,601.96,330.55C607.17,337.14,612.38,341.27,617.60,345.29C622.81,349.32,628.02,353.23,633.23,358.19C638.44,363.15,643.66,369.14,648.87,372.93C654.08,376.72,659.29,378.30,664.50,382.14C669.72,385.98,674.93,392.08,680.14,393.20C685.35,394.32,690.56,390.47,695.78,395.04C700.99,399.61,706.20,412.62,711.41,415.31C716.62,418.00,721.84,410.38,727.05,407.94C732.26,405.50,737.47,408.24,742.68,407.94C747.90,407.64,753.11,404.29,758.32,402.41C763.53,400.53,768.74,400.10,773.96,400.57C779.17,401.04,784.38,402.41,789.59,402.41C794.80,402.41,800.02,401.05,805.23,400.57C810.44,400.08,815.65,400.47,820.86,400.57C826.08,400.66,831.29,400.46,836.50,400.57C841.71,400.68,846.92,401.10,852.14,400.57C857.35,400.04,862.56,398.57,867.77,398.72C872.98,398.88,878.20,400.68,883.41,400.57C888.62,400.46,893.83,398.45,899.04,398.72C904.26,399.00,909.47,401.57,914.68,402.41C919.89,403.25,925.10,402.36,930.32,402.41C935.53,402.46,940.74,403.43,945.95,413.46C951.16,423.50,956.38,442.58,961.59,452.16C966.80,461.74,972.01,461.81,977.22,463.21C982.44,464.61,987.65,467.33,992.86,468.74C998.07,470.15,1003.28,470.23,1008.50,470.58C1013.71,470.93,1018.92,471.55,1024.13,472.42C1029.34,473.30,1034.56,474.45,1039.77,472.42C1044.98,470.40,1050.19,465.22,1055.40,466.90C1060.62,468.58,1065.83,477.12,1071.04,485.32C1076.25,493.53,1081.46,501.40,1086.68,509.27" stroke="#c71e1d" stroke-width="2.5"/>
<g fill="#c71e1d" fill-opacity="0.5" stroke="none"><circle cx="336.1" cy="91.0" r="2.5"/><circle cx="351.8" cy="92.9" r="2.5"/><circle cx="367.4" cy="80.0" r="2.5"/><circle cx="383.1" cy="76.3" r="2.5"/><circle cx="398.7" cy="137.1" r="2.5"/><circle cx="414.3" cy="186.8" r="2.5"/><circle cx="430.0" cy="194.2" r="2.5"/><circle cx="445.6" cy="205.3" r="2.5"/><circle cx="461.2" cy="220.0" r="2.5"/><circle cx="476.9" cy="220.0" r="2.5"/><circle cx="492.5" cy="223.7" r="2.5"/><circle cx="508.1" cy="258.7" r="2.5"/><circle cx="523.8" cy="271.6" r="2.5"/><circle cx="539.4" cy="288.2" r="2.5"/><circle cx="555.1" cy="293.7" r="2.5"/><circle cx="570.7" cy="302.9" r="2.5"/><circle cx="586.3" cy="310.3" r="2.5"/><circle cx="602.0" cy="330.6" r="2.5"/><circle cx="617.6" cy="345.3" r="2.5"/><circle cx="633.2" cy="358.2" r="2.5"/><circle cx="648.9" cy="372.9" r="2.5"/><circle cx="664.5" cy="382.1" r="2.5"/><circle cx="680.1" cy="393.2" r="2.5"/><circle cx="695.8" cy="395.0" r="2.5"/><circle cx="711.4" cy="415.3" r="2.5"/><circle cx="727.0" cy="407.9" r="2.5"/><circle cx="742.7" cy="407.9" r="2.5"/><circle cx="758.3" cy="402.4" r="2.5"/><circle cx="774.0" cy="400.6" r="2.5"/><circle cx="789.6" cy="402.4" r="2.5"/><circle cx="805.2" cy="400.6" r="2.5"/><circle cx="820.9" cy="400.6" r="2.5"/><circle cx="836.5" cy="400.6" r="2.5"/><circle cx="852.1" cy="400.6" r="2.5"/><circle cx="867.8" cy="398.7" r="2.5"/><circle cx="883.4" cy="400.6" r="2.5"/><circle cx="899.0" cy="398.7" r="2.5"/><circle cx="914.7" cy="402.4" r="2.5"/><circle cx="930.3" cy="402.4" r="2.5"/><circle cx="946.0" cy="413.5" r="2.5"/><circle cx="961.6" cy="452.2" r="2.5"/><circle cx="977.2" cy="463.2" r="2.5"/><circle cx="992.9" cy="468.7" r="2.5"/><circle cx="1008.5" cy="470.6" r="2.5"/><circle cx="1024.1" cy="472.4" r="2.5"/><circle cx="1039.8" cy="472.4" r="2.5"/><circle cx="1055.4" cy="466.9" r="2.5"/><circle cx="1071.0" cy="485.3" r="2.5"/></g>
<circle cx="1086.7" cy="509.3" r="2.3" fill="#c71e1d" fill-opacity="0.7" stroke="none"/>
<path d="M367.42,-25.05C372.63,10.78,377.84,46.61,383.06,67.07C388.27,87.54,393.48,92.65,398.69,98.40C403.90,104.15,409.12,110.54,414.33,113.14C419.54,115.74,424.75,114.55,429.96,114.98C435.18,115.41,440.39,117.46,445.60,120.51C450.81,123.56,456.02,127.61,461.24,131.56C466.45,135.52,471.66,139.38,476.87,140.77C482.08,142.17,487.30,141.10,492.51,133.40C497.72,125.71,502.93,111.38,508.14,107.61C513.36,103.84,518.57,110.63,523.78,111.29C528.99,111.96,534.20,106.51,539.42,105.77C544.63,105.02,549.84,108.98,555.05,111.29C560.26,113.61,565.48,114.29,570.69,118.66C575.90,123.04,581.11,131.11,586.32,126.03C591.54,120.96,596.75,102.74,601.96,127.88C607.17,153.02,612.38,221.52,617.60,245.80C622.81,270.08,628.02,250.13,633.23,242.11C638.44,234.09,643.66,237.99,648.87,240.27C654.08,242.55,659.29,243.20,664.50,243.95C669.72,244.71,674.93,245.56,680.14,245.80C685.35,246.04,690.56,245.67,695.78,247.64C700.99,249.61,706.20,253.91,711.41,253.17C716.62,252.42,721.84,246.62,727.05,262.38C732.26,278.14,737.47,315.46,742.68,328.71C747.90,341.96,753.11,331.14,758.32,330.55C763.53,329.97,768.74,339.62,773.96,343.45C779.17,347.28,784.38,345.30,789.59,343.45C794.80,341.60,800.02,339.90,805.23,339.76C810.44,339.63,815.65,341.08,820.86,341.61C826.08,342.13,831.29,341.74,836.50,341.61C841.71,341.48,846.92,341.61,852.14,341.61C857.35,341.60,862.56,341.46,867.77,341.61C872.98,341.75,878.20,342.19,883.41,343.45C888.62,344.71,893.83,346.78,899.04,347.13C904.26,347.49,909.47,346.11,914.68,347.13C919.89,348.16,925.10,351.59,930.32,352.66C935.53,353.73,940.74,352.45,945.95,352.66C951.16,352.88,956.38,354.59,961.59,356.35C966.80,358.11,972.01,359.92,977.22,360.03C982.44,360.15,987.65,358.57,992.86,358.19C998.07,357.81,1003.28,358.63,1008.50,360.03C1013.71,361.44,1018.92,363.43,1024.13,363.72C1029.34,364.00,1034.56,362.58,1039.77,365.56C1044.98,368.54,1050.19,375.93,1055.40,376.62C1060.62,377.30,1065.83,371.28,1071.04,376.62C1076.25,381.95,1081.46,398.63,1086.68,415.31" stroke="#fa8c00" stroke-width="2.5"/>
<g fill="#fa8c00" fill-opacity="0.5" stroke="none"><circle cx="383.1" cy="67.1" r="2.5"/><circle cx="398.7" cy="98.4" r="2.5"/><circle cx="414.3" cy="113.1" r="2.5"/><circle cx="430.0" cy="115.0" r="2.5"/><circle cx="445.6" cy="120.5" r="2.5"/><circle cx="461.2" cy="131.6" r="2.5"/><circle cx="476.9" cy="140.8" r="2.5"/><circle cx="492.5" cy="133.4" r="2.5"/><circle cx="508.1" cy="107.6" r="2.5"/><circle cx="523.8" cy="111.3" r="2.5"/><circle cx="539.4" cy="105.8" r="2.5"/><circle cx="555.1" cy="111.3" r="2.5"/><circle cx="570.7" cy="118.7" r="2.5"/><circle cx="586.3" cy="126.0" r="2.5"/><circle cx="602.0" cy="127.9" r="2.5"/><circle cx="617.6" cy="245.8" r="2.5"/><circle cx="633.2" cy="242.1" r="2.5"/><circle cx="648.9" cy="240.3" r="2.5"/><circle cx="664.5" cy="244.0" r="2.5"/><circle cx="680.1" cy="245.8" r="2.5"/><circle cx="695.8" cy="247.6" r="2.5"/><circle cx="711.4" cy="253.2" r="2.5"/><circle cx="727.0" cy="262.4" r="2.5"/><circle cx="742.7" cy="328.7" r="2.5"/><circle cx="758.3" cy="330.6" r="2.5"/><circle cx="774.0" cy="343.4" r="2.5"/><circle cx="789.6" cy="343.4" r="2.5"/><circle cx="805.2" cy="339.8" r="2.5"/><circle cx="820.9" cy="341.6" r="2.5"/><circle cx="836.5" cy="341.6" r="2.5"/><circle cx="852.1" cy="341.6" r="2.5"/><circle cx="867.8" cy="341.6" r="2.5"/><circle cx="883.4" cy="343.4" r="2.5"/><circle cx="899.0" cy="347.1" r="2.5"/><circle cx="914.7" cy="347.1" r="2.5"/><circle cx="930.3" cy="352.7" r="2.5"/><circle cx="946.0" cy="352.7" r="2.5"/><circle cx="961.6" cy="356.3" r="2.5"/><circle cx="977.2" cy="360.0" r="2.5"/><circle cx="992.9" cy="358.2" r="2.5"/><circle cx="1008.5" cy="360.0" r="2.5"/><circle cx="1024.1" cy="363.7" r="2.5"/><circle cx="1039.8" cy="365.6" r="2.5"/><circle cx="1055.4" cy="376.6" r="2.5"/><circle cx="1071.0" cy="376.6" r="2.5"/></g>
<circle cx="1086.7" cy="415.3" r="2.3" fill="#fa8c00" fill-opacity="0.7" stroke="none"/>
</g>
<line x1="1088.8" y1="443.9" x2="1094.5" y2="451.3" stroke="#00866d" stroke-width="1.2" stroke-dasharray="2.3,2.4"/>
<text x="1099.1" y="456.3" font-size="14" fill="#222" textLength="32.0" lengthAdjust="spacingAndGlyphs">Lugo</text>
<line x1="1088.9" y1="585.8" x2="1094.5" y2="578.8" stroke="#09dfa3" stroke-width="1.2" stroke-dasharray="2.3,2.4"/>
<text x="1099.1" y="583.8" font-size="14" fill="#222" textLength="36.8" lengthAdjust="spacingAndGlyphs">Ferrol</text>
<line x1="1087.3" y1="561.1" x2="1094.5" y2="523.8" stroke="#555555" stroke-width="1.2" stroke-dasharray="2.3,2.4"/>
<text x="1099.1" y="528.8" font-size="14" fill="#222" textLength="58.8" lengthAdjust="spacingAndGlyphs">Santiago</text>
<line x1="1087.6" y1="579.6" x2="1094.5" y2="553.3" stroke="#15607a" stroke-width="1.2" stroke-dasharray="2.3,2.4"/>
<text x="1099.1" y="558.3" font-size="14" fill="#222" textLength="53.3" lengthAdjust="spacingAndGlyphs">Ourense</text>
<line x1="1088.9" y1="596.8" x2="1094.5" y2="603.8" stroke="#1d81a2" stroke-width="1.2" stroke-dasharray="2.3,2.4"/>
<text x="1099.1" y="608.8" font-size="14" fill="#222" textLength="74.3" lengthAdjust="spacingAndGlyphs">Pontevedra</text>
<line x1="1087.9" y1="506.0" x2="1094.5" y2="488.8" stroke="#c71e1d" stroke-width="1.2" stroke-dasharray="2.3,2.4"/>
<text x="1099.1" y="493.8" font-size="14" fill="#222" textLength="60.5" lengthAdjust="spacingAndGlyphs">A Coruña</text>
<line x1="1089.5" y1="413.2" x2="1094.5" y2="409.5" stroke="#fa8c00" stroke-width="1.2" stroke-dasharray="2.3,2.4"/>
<text x="1099.1" y="414.5" font-size="14" fill="#222" textLength="30.0" lengthAdjust="spacingAndGlyphs">Vigo</text>
<g font-size="14" font-style="italic" fill="#636363"><text x="12.7" y="665.2" textLength="275.6" lengthAdjust="spacingAndGlyphs">Los grandes saltos en determinadas fechas,</text><text x="295.0" y="665.2" textLength="225.7" lengthAdjust="spacingAndGlyphs">por ejemplo en torno al 17 de mayo,</text><text x="526.7" y="665.2" textLength="305.3" lengthAdjust="spacingAndGlyphs">se deben a cambios metodológicos de la fuente</text></g>
<g font-size="13" fill="#8e8e8e"><text x="12.7" y="687.2" textLength="46.6" lengthAdjust="spacingAndGlyphs">Gráfico:</text><text x="64.0" y="687.2" textLength="148.3" lengthAdjust="spacingAndGlyphs">WWW.GALICIAPRESS.ES</text><text x="226.7" y="687.2" textLength="194.0" lengthAdjust="spacingAndGlyphs">Fuente: Consellería de Sanidade</text><text x="434.3" y="687.2" textLength="147.4" lengthAdjust="spacingAndGlyphs">Creado con Datawrapper</text><circle cx="219.2" cy="682.6" r="1.7"/><circle cx="427.7" cy="682.6" r="1.7"/></g>
</svg></body></html>
